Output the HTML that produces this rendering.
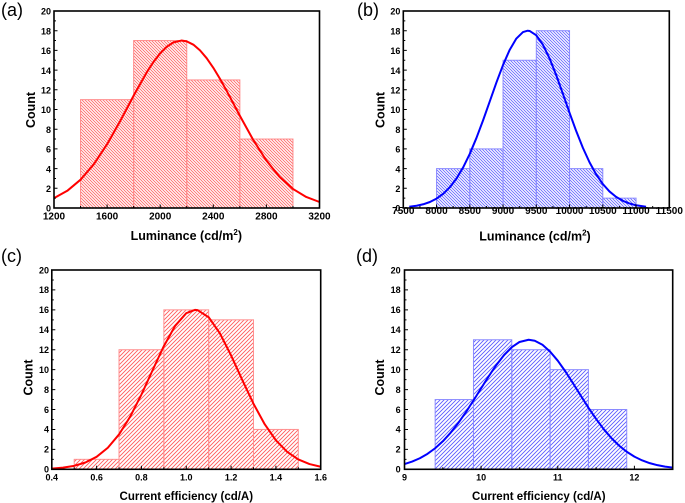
<!DOCTYPE html>
<html><head><meta charset="utf-8"><style>
html,body{margin:0;padding:0;background:#fff;}
svg{display:block;}
text{font-family:"Liberation Sans",Arial,sans-serif;fill:#000;}
.t{font-weight:bold;font-size:10px;}
.ty{font-weight:bold;font-size:9px;}
.ts{font-weight:bold;font-size:9px;}
.ti{font-weight:bold;font-size:12.5px;}
.tc{font-weight:bold;font-size:11.5px;}
.pl{font-size:18px;}
</style></head><body>
<svg width="685" height="503" viewBox="0 0 685 503" xmlns="http://www.w3.org/2000/svg">
<defs>
<pattern id="hr" patternUnits="userSpaceOnUse" width="3" height="3"><path d="M-1,-1 L4,4 M-1,2 L1,4 M2,-1 L4,1" stroke="#ff6a6a" stroke-width="0.9"/></pattern>
<pattern id="hb" patternUnits="userSpaceOnUse" width="3" height="3"><path d="M-1,-1 L4,4 M-1,2 L1,4 M2,-1 L4,1" stroke="#6a6aff" stroke-width="0.9"/></pattern>
<pattern id="fr" patternUnits="userSpaceOnUse" width="4" height="4"><path d="M-1,5 L5,-1 M-1,1 L1,-1 M3,5 L5,3" stroke="#ff5a5a" stroke-width="0.9"/></pattern>
<pattern id="fb" patternUnits="userSpaceOnUse" width="4" height="4"><path d="M-1,5 L5,-1 M-1,1 L1,-1 M3,5 L5,3" stroke="#5a5aff" stroke-width="0.9"/></pattern>
</defs>
<rect width="685" height="503" fill="#fff"/>

<!-- ===== Panel (a) ===== -->
<g fill="url(#hr)" stroke="#ff8a8a" stroke-width="1">
<rect x="80.55" y="99.65" width="53.1" height="108.35"/>
<rect x="133.65" y="40.55" width="53.1" height="167.45"/>
<rect x="186.75" y="79.95" width="53.1" height="128.05"/>
<rect x="239.85" y="139.05" width="53.1" height="68.95"/>
</g>
<g transform="translate(54,208) scale(0.13275,-9.85) translate(-1200,0)">
<polyline vector-effect="non-scaling-stroke" fill="none" stroke="#ff0000" stroke-width="2" stroke-linejoin="round" points="1200,0.997 1300,1.745 1400,2.873 1500,4.447 1600,6.474 1700,8.862 1800,11.407 1900,13.806 1950,14.84 2000,15.711 2050,16.378 2100,16.813 2160,17 2200,16.916 2250,16.582 2300,16.003 2350,15.21 2400,14.237 2450,13.12 2500,11.909 2600,9.367 2700,6.928 2800,4.818 2900,3.150 3000,1.937 3100,1.121 3200,0.609"/>
</g>
<rect x="54" y="11" width="265.5" height="197" fill="none" stroke="#000" stroke-width="1.6"/>
<path stroke="#000" stroke-width="1" fill="none" d="M54,188.3h3.5M54,168.6h3.5M54,148.9h3.5M54,129.2h3.5M54,109.5h3.5M54,89.8h3.5M54,70.1h3.5M54,50.4h3.5M54,30.7h3.5
M54,198.15h2M54,178.45h2M54,158.75h2M54,139.05h2M54,119.35h2M54,99.65h2M54,79.95h2M54,60.25h2M54,40.55h2M54,20.85h2
M107.1,208v-3.5M160.2,208v-3.5M213.3,208v-3.5M266.4,208v-3.5
M80.55,208v-2M133.65,208v-2M186.75,208v-2M239.85,208v-2M292.95,208v-2"/>
<g class="ty" text-anchor="end">
<text x="51" y="211.7">0</text><text x="51" y="192">2</text><text x="51" y="172.3">4</text><text x="51" y="152.6">6</text><text x="51" y="132.9">8</text><text x="51" y="113.2">10</text><text x="51" y="93.5">12</text><text x="51" y="73.8">14</text><text x="51" y="54.1">16</text><text x="51" y="34.4">18</text><text x="51" y="14.7">20</text>
</g>
<g class="t" text-anchor="middle">
<text x="54" y="219.5">1200</text><text x="107.1" y="219.5">1600</text><text x="160.2" y="219.5">2000</text><text x="213.3" y="219.5">2400</text><text x="266.4" y="219.5">2800</text><text x="319.5" y="219.5">3200</text>
</g>
<text class="ti" x="186.3" y="240" text-anchor="middle">Luminance (cd/m<tspan font-size="8" dy="-5">2</tspan><tspan dy="5">)</tspan></text>
<text class="ti" transform="translate(35,110) rotate(-90)" text-anchor="middle">Count</text>
<text class="pl" x="1" y="16">(a)</text>

<!-- ===== Panel (b) ===== -->
<g fill="url(#hb)" stroke="#8a8aff" stroke-width="1">
<rect x="436.55" y="168.6" width="33.25" height="39.4"/>
<rect x="469.8" y="148.9" width="33.25" height="59.1"/>
<rect x="503.05" y="60.25" width="33.25" height="147.75"/>
<rect x="536.3" y="30.7" width="33.25" height="177.3"/>
<rect x="569.55" y="168.6" width="33.25" height="39.4"/>
<rect x="602.8" y="198.15" width="33.25" height="9.85"/>
</g>
<g transform="translate(403.3,208) scale(0.0665,-9.85) translate(-7500,0)">
<polyline vector-effect="non-scaling-stroke" fill="none" stroke="#0000ff" stroke-width="2" stroke-linejoin="round" points="7590,0.126 7700,0.228 7800,0.379 7900,0.610 8000,0.952 8100,1.440 8200,2.110 8300,2.995 8400,4.124 8500,5.501 8600,7.112 8700,8.912 8800,10.822 8900,12.735 9000,14.526 9100,16.058 9200,17.203 9300,17.863 9370,18 9400,17.975 9500,17.530 9600,16.569 9700,15.177 9800,13.475 9900,11.593 10000,9.666 10100,7.812 10200,6.118 10300,4.644 10400,3.416 10500,2.436 10600,1.683 10700,1.127 10800,0.731 10900,0.460 11000,0.280 11150,0.126"/>
</g>
<rect x="403.3" y="11" width="266" height="197" fill="none" stroke="#000" stroke-width="1.6"/>
<path stroke="#000" stroke-width="1" fill="none" d="M403.3,188.3h3.5M403.3,168.6h3.5M403.3,148.9h3.5M403.3,129.2h3.5M403.3,109.5h3.5M403.3,89.8h3.5M403.3,70.1h3.5M403.3,50.4h3.5M403.3,30.7h3.5
M403.3,198.15h2M403.3,178.45h2M403.3,158.75h2M403.3,139.05h2M403.3,119.35h2M403.3,99.65h2M403.3,79.95h2M403.3,60.25h2M403.3,40.55h2M403.3,20.85h2
M436.55,208v-3.5M469.8,208v-3.5M503.05,208v-3.5M536.3,208v-3.5M569.55,208v-3.5M602.8,208v-3.5M636.05,208v-3.5
M419.93,208v-2M453.18,208v-2M486.43,208v-2M519.68,208v-2M552.93,208v-2M586.18,208v-2M619.43,208v-2M652.68,208v-2"/>
<g class="ty" text-anchor="end">
<text x="400.4" y="211.7">0</text><text x="400.4" y="192">2</text><text x="400.4" y="172.3">4</text><text x="400.4" y="152.6">6</text><text x="400.4" y="132.9">8</text><text x="400.4" y="113.2">10</text><text x="400.4" y="93.5">12</text><text x="400.4" y="73.8">14</text><text x="400.4" y="54.1">16</text><text x="400.4" y="34.4">18</text><text x="400.4" y="14.7">20</text>
</g>
<g class="t" text-anchor="middle">
<text x="403.3" y="214">7500</text><text x="436.55" y="214">8000</text><text x="469.8" y="214">8500</text><text x="503.05" y="214">9000</text><text x="536.3" y="214">9500</text><text x="569.55" y="214">10000</text><text x="602.8" y="214">10500</text><text x="636.05" y="214">11000</text><text x="669.3" y="214">11500</text>
</g>
<text class="ti" x="535" y="240.5" text-anchor="middle">Luminance (cd/m<tspan font-size="8" dy="-5">2</tspan><tspan dy="5">)</tspan></text>
<text class="ti" transform="translate(384.5,110) rotate(-90)" text-anchor="middle">Count</text>
<text class="pl" x="357" y="16">(b)</text>

<!-- ===== Panel (c) ===== -->
<g fill="url(#fr)" stroke="#ff9090" stroke-width="1">
<rect x="74.21" y="459.34" width="44.82" height="9.96"/>
<rect x="119.03" y="349.72" width="44.82" height="119.58"/>
<rect x="163.85" y="309.86" width="44.82" height="159.44"/>
<rect x="208.67" y="319.83" width="44.82" height="149.47"/>
<rect x="253.49" y="429.44" width="44.82" height="39.86"/>
</g>
<g transform="translate(51.8,469.3) scale(224.1,-9.965) translate(-0.4,0)">
<polyline vector-effect="non-scaling-stroke" fill="none" stroke="#ff0000" stroke-width="2" stroke-linejoin="round" points="0.40,0.073 0.45,0.164 0.50,0.346 0.55,0.681 0.60,1.254 0.65,2.165 0.70,3.499 0.75,5.295 0.80,7.502 0.85,9.954 0.90,12.365 0.95,14.384 1.00,15.667 1.04,16 1.05,15.979 1.10,15.26 1.15,13.646 1.20,11.427 1.25,8.96 1.30,6.578 1.35,4.522 1.40,2.912 1.45,1.755 1.50,0.990 1.55,0.523 1.60,0.259"/>
</g>
<rect x="51.8" y="270" width="268.9" height="199.3" fill="none" stroke="#000" stroke-width="1.6"/>
<path stroke="#000" stroke-width="1" fill="none" d="M51.8,449.37h3.5M51.8,429.44h3.5M51.8,409.51h3.5M51.8,389.58h3.5M51.8,369.65h3.5M51.8,349.72h3.5M51.8,329.79h3.5M51.8,309.86h3.5M51.8,289.93h3.5
M51.8,459.34h2M51.8,439.4h2M51.8,419.48h2M51.8,399.55h2M51.8,379.62h2M51.8,359.69h2M51.8,339.76h2M51.8,319.83h2M51.8,299.9h2M51.8,279.97h2
M96.62,469.3v-3.5M141.44,469.3v-3.5M186.26,469.3v-3.5M231.08,469.3v-3.5M275.9,469.3v-3.5
M74.21,469.3v-2M119.03,469.3v-2M163.85,469.3v-2M208.67,469.3v-2M253.49,469.3v-2M298.31,469.3v-2"/>
<g class="ty" text-anchor="end" font-size="8.5">
<text x="49" y="472.6">0</text><text x="49" y="452.7">2</text><text x="49" y="432.7">4</text><text x="49" y="412.8">6</text><text x="49" y="392.9">8</text><text x="49" y="372.9">10</text><text x="49" y="353">12</text><text x="49" y="333.1">14</text><text x="49" y="313.1">16</text><text x="49" y="293.2">18</text><text x="49" y="273.3">20</text>
</g>
<g class="ts" text-anchor="middle">
<text x="51.8" y="480.5">0.4</text><text x="96.62" y="480.5">0.6</text><text x="141.44" y="480.5">0.8</text><text x="186.26" y="480.5">1.0</text><text x="231.08" y="480.5">1.2</text><text x="275.9" y="480.5">1.4</text><text x="320.72" y="480.5">1.6</text>
</g>
<text class="tc" x="186.3" y="500" text-anchor="middle">Current efficiency (cd/A)</text>
<text class="ti" font-size="12" transform="translate(32.5,377.5) rotate(-90)" text-anchor="middle">Count</text>
<text class="pl" x="1" y="262">(c)</text>

<!-- ===== Panel (d) ===== -->
<g fill="url(#fb)" stroke="#8a8aff" stroke-width="1">
<rect x="435.15" y="399.55" width="38.32" height="69.75"/>
<rect x="473.47" y="339.76" width="38.31" height="129.54"/>
<rect x="511.78" y="349.72" width="38.32" height="119.58"/>
<rect x="550.1" y="369.65" width="38.31" height="99.65"/>
<rect x="588.41" y="409.51" width="38.32" height="59.79"/>
</g>
<g transform="translate(404.5,469.3) scale(76.63,-9.965) translate(-9,0)">
<polyline vector-effect="non-scaling-stroke" fill="none" stroke="#0000ff" stroke-width="2" stroke-linejoin="round" points="9.0,0.528 9.1,0.775 9.2,1.109 9.3,1.549 9.4,2.113 9.5,2.812 9.6,3.651 9.7,4.627 9.8,5.722 9.9,6.904 10.0,8.132 10.1,9.345 10.2,10.482 10.3,11.473 10.4,12.254 10.5,12.774 10.62,13 10.7,12.899 10.8,12.496 10.9,11.813 11.0,10.9 11.1,9.813 11.2,8.623 11.3,7.392 11.4,6.186 11.5,5.052 11.6,4.025 11.7,3.130 11.8,2.375 11.9,1.759 12.0,1.271 12.1,0.897 12.2,0.617 12.3,0.415 12.4,0.272 12.5,0.174"/>
</g>
<rect x="404.5" y="270" width="268.2" height="199.3" fill="none" stroke="#000" stroke-width="1.6"/>
<path stroke="#000" stroke-width="1" fill="none" d="M404.5,449.37h3.5M404.5,429.44h3.5M404.5,409.51h3.5M404.5,389.58h3.5M404.5,369.65h3.5M404.5,349.72h3.5M404.5,329.79h3.5M404.5,309.86h3.5M404.5,289.93h3.5
M404.5,459.34h2M404.5,439.4h2M404.5,419.48h2M404.5,399.55h2M404.5,379.62h2M404.5,359.69h2M404.5,339.76h2M404.5,319.83h2M404.5,299.9h2M404.5,279.97h2
M481.1,469.3v-3.5M557.8,469.3v-3.5M634.4,469.3v-3.5
M442.8,469.3v-2M519.4,469.3v-2M596.1,469.3v-2"/>
<g class="ty" text-anchor="end" font-size="8.5">
<text x="400.6" y="472.6">0</text><text x="400.6" y="452.7">2</text><text x="400.6" y="432.7">4</text><text x="400.6" y="412.8">6</text><text x="400.6" y="392.9">8</text><text x="400.6" y="372.9">10</text><text x="400.6" y="353">12</text><text x="400.6" y="333.1">14</text><text x="400.6" y="313.1">16</text><text x="400.6" y="293.2">18</text><text x="400.6" y="273.3">20</text>
</g>
<g class="ts" text-anchor="middle">
<text x="404.5" y="480.5">9</text><text x="481.1" y="480.5">10</text><text x="557.8" y="480.5">11</text><text x="634.4" y="480.5">12</text>
</g>
<text class="tc" x="538.8" y="500" text-anchor="middle">Current efficiency (cd/A)</text>
<text class="ti" font-size="12" transform="translate(384,377.5) rotate(-90)" text-anchor="middle">Count</text>
<text class="pl" x="356" y="262">(d)</text>
</svg>
</body></html>
